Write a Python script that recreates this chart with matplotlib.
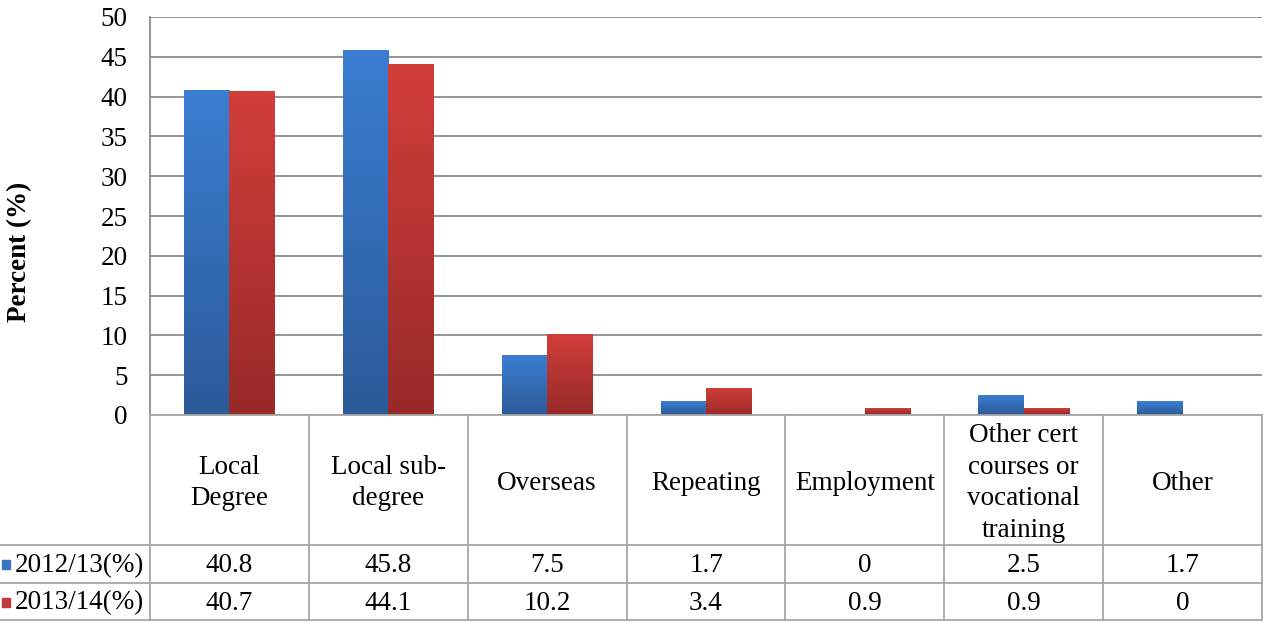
import numpy as np
import matplotlib
matplotlib.use("Agg")
import matplotlib.pyplot as plt
from matplotlib.colors import LinearSegmentedColormap

categories = ["Local\nDegree", "Local sub-\ndegree", "Overseas", "Repeating",
              "Employment", "Other cert\ncourses or\nvocational\ntraining", "Other"]
series_names = ["2012/13(%)", "2013/14(%)"]
values_2012 = [40.8, 45.8, 7.5, 1.7, 0, 2.5, 1.7]
values_2013 = [40.7, 44.1, 10.2, 3.4, 0.9, 0.9, 0]
yticks = [0, 5, 10, 15, 20, 25, 30, 35, 40, 45, 50]

plt.rcParams["font.family"] = ["Liberation Serif", "DejaVu Serif"]
FS = 19.5
GRID = "#8c8c8c"
TABLE = "#a6a6a6"

W, H = 1265, 623
fig = plt.figure(figsize=(W / 100, H / 100), dpi=100)
fig.patch.set_facecolor("white")

# main plot region (pixel geometry)
px_l, px_r, px_t, px_b = 150, 1262, 17, 415
ax = fig.add_axes([px_l / W, 1 - px_b / H, (px_r - px_l) / W, (px_b - px_t) / H])

n = len(categories)
x = np.arange(n)
bw = 0.286
grad_blue = LinearSegmentedColormap.from_list("gb", ["#2c5a98", "#3b7ed2"])
grad_red = LinearSegmentedColormap.from_list("gr", ["#982a29", "#d23e3a"])

def gradient_bars(xs, vals, cmap):
    bars = ax.bar(xs, vals, width=bw, color="none", edgecolor="none", zorder=3)
    grad = np.linspace(0, 1, 256).reshape(-1, 1)
    for b in bars:
        h = b.get_height()
        if h <= 0:
            continue
        x0 = b.get_x()
        im = ax.imshow(grad, cmap=cmap, origin="lower", aspect="auto",
                       extent=[x0, x0 + b.get_width(), 0, h], zorder=3)
        im.set_clip_path(b)
    return bars

gradient_bars(x - bw / 2, values_2012, grad_blue)
gradient_bars(x + bw / 2, values_2013, grad_red)
ax.set_xlim(-0.5, n - 0.5)
ax.set_ylim(0, 50)

ax.set_yticks(yticks)
ax.set_yticklabels([str(t) for t in yticks], fontsize=FS)
ax.tick_params(axis="y", length=0, pad=16)
ax.set_xticks([])
ax.grid(axis="y", color=GRID, linewidth=1.3, zorder=1)
ax.set_axisbelow(True)
for s in ["top", "right", "bottom"]:
    ax.spines[s].set_visible(False)
ax.spines["left"].set_color(GRID)
ax.spines["left"].set_linewidth(1.3)

fig.text(20 / W, 1 - 252 / H, "Percent (%)", rotation=90, fontsize=FS,
         fontweight="bold", ha="center", va="center")

# data table below the plot
tab_t, tab_b = 415, 620
tab = fig.add_axes([px_l / W, 1 - tab_b / H, (px_r - px_l) / W, (tab_b - tab_t) / H])
tab.set_xlim(-0.5, n - 0.5)
tab.set_ylim(tab_b, tab_t)
tab.axis("off")
unit = (px_r - px_l) / n
left = -0.5 - px_l / unit
row1, row2 = 545, 583

lk = dict(color=TABLE, linewidth=1.3, clip_on=False)
tab.plot([-0.5, n - 0.5], [tab_t, tab_t], **lk)
for yy in (row1, row2, tab_b):
    tab.plot([left, n - 0.5], [yy, yy], **lk)
for i in range(n + 1):
    tab.plot([i - 0.5, i - 0.5], [tab_t, tab_b], **lk)

for i, c in enumerate(categories):
    tab.text(i, (tab_t + row1) / 2 + 3, c, ha="center", va="center",
             fontsize=FS, linespacing=1.36)
    tab.text(i, (row1 + row2) / 2 + 1.5, f"{values_2012[i]:g}", ha="center",
             va="center", fontsize=FS)
    tab.text(i, (row2 + tab_b) / 2 + 1.5, f"{values_2013[i]:g}", ha="center",
             va="center", fontsize=FS)

sq = 8 / unit
for (yy0, yy1), name, col in [((row1, row2), series_names[0], "#3a74c4"),
                              ((row2, tab_b), series_names[1], "#c0393a")]:
    yc = (yy0 + yy1) / 2
    tab.add_patch(plt.Rectangle((left + 2 / unit, yc - 4), sq, 9, color=col,
                                clip_on=False))
    tab.text(left + 15 / unit, yc + 1.5, name, ha="left", va="center", fontsize=FS)

fig.savefig("out.png", dpi=100)
